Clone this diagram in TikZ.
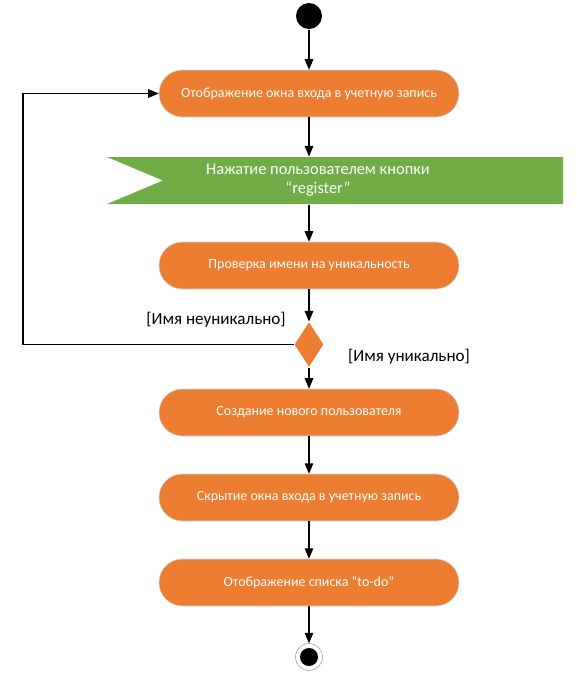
\documentclass[tikz,border=0pt]{standalone}
\usepackage{fontspec}
\setmainfont{Carlito}
\usepackage{tikz}
\usetikzlibrary{arrows}
\usetikzlibrary{shapes.geometric}
\definecolor{corange}{rgb}{0.929, 0.490, 0.192}
\definecolor{cgreen}{rgb}{0.439, 0.678, 0.278}
\definecolor{cedge}{rgb}{0.80, 0.84, 0.90}
\definecolor{gris}{rgb}{0.6,0.6,0.6}

\begin{document}
\begin{tikzpicture}[x=0.75pt, y=-0.75pt, ->, >=triangle 45, thick]
  \tikzstyle{action}=[rectangle, rounded corners=17.5pt, minimum width=225pt, minimum height=35.25pt, fill=corange, draw=cedge, thin, text=white, font=\fontsize{10.5}{12}\selectfont, inner sep=0pt]
  \tikzstyle{guard}=[text=black, font=\fontsize{12.8}{15}\selectfont, inner sep=0pt]
  \useasboundingbox (0,0) rectangle (577,690);

	\node[circle, fill=black, minimum size=19.5pt, inner sep=0pt] (S) at (309,16) {};
	\node[action] (A1) at (309,93.5) {Отображение окна входа в учетную запись};
	\fill[cgreen] (107,157) -- (563,157) -- (563,204) -- (107,204) -- (163,180.5) -- cycle;
	\node[text=white, align=center, font=\fontsize{12.3}{14.25}\selectfont, minimum height=35.25pt, inner sep=0pt] (G) at (318,180.5) {Нажатие пользователем кнопки\\“register”};
	\node[action] (A2) at (309,265.5) {Проверка имени на уникальность};
	\node[diamond, fill=corange, minimum width=21.75pt, minimum height=33.75pt, inner sep=0pt] (D) at (309,344.5) {};
	\node[action] (A3) at (309,412.5) {Создание нового пользователя};
	\node[action] (A4) at (309,497.5) {Скрытие окна входа в учетную запись};
	\node[action] (A5) at (309,582.5) {Отображение списка “to-do”};
	\node[circle, fill=white, draw=gris, thin, minimum size=20.25pt, inner sep=0pt] (E) at (309,657) {};
	\node[circle, fill=black, minimum size=13.5pt, inner sep=0pt] (E1) at (E) {};
	\node[guard] (N) at (216,320) {[Имя неуникально]};
	\node[guard] (U) at (409,357) {[Имя уникально]};
	\coordinate (L) at (23,344.5);

	\path
		(S) edge (A1)
		(A1) edge (A1 |- G.north)
		(A1 |- G.south) edge (A2)
		(A2) edge (D)
		(D) edge (A3)
		(A3) edge (A4)
		(A4) edge (A5)
		(A5) edge (E)
		;
	\draw (D.west) -- (L) |- (A1.west);

\end{tikzpicture}
\end{document}
